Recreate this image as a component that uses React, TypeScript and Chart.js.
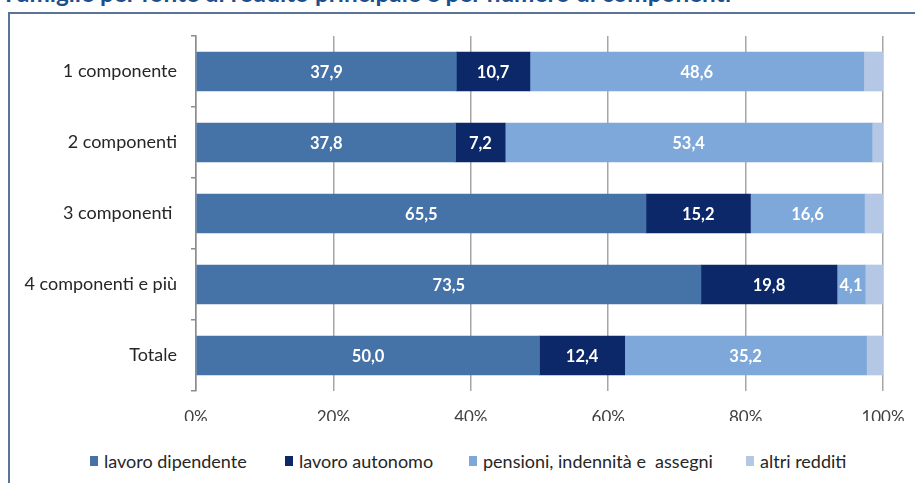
import React, { useEffect, useRef } from "react";
import { Chart, registerables } from "chart.js";

Chart.register(...registerables);

const titleText = "Famiglie per fonte di reddito principale e per numero di componenti";
const categories = ["1 componente", "2 componenti", "3 componenti ", "4 componenti e più", "Totale"];
const lavoroDipendente = [37.9, 37.8, 65.5, 73.5, 50.0];
const lavoroAutonomo = [10.7, 7.2, 15.2, 19.8, 12.4];
const pensioni = [48.6, 53.4, 16.6, 4.1, 35.2];
const altriRedditi = [2.8, 1.6, 2.7, 2.6, 2.4];
const seriesNames = ["lavoro dipendente", "lavoro autonomo", "pensioni, indennità e  assegni", "altri redditi"];
const seriesColors = ["#4573A8", "#0C2868", "#7EA8DA", "#B4C8E6"];
const xTickValues = [0, 20, 40, 60, 80, 100];
const labelledSeries = [0, 1, 2];
const legendLefts = [90, 285, 469, 746];

const FONT = "Lato, 'Open Sans', sans-serif";

const barLabels = {
  id: "barLabels",
  afterDatasetsDraw(chart: any) {
    const ctx = chart.ctx;
    ctx.save();
    ctx.font = `bold 16.5px ${FONT}`;
    ctx.fillStyle = "#ffffff";
    ctx.textAlign = "center";
    ctx.textBaseline = "middle";
    labelledSeries.forEach((di) => {
      const meta = chart.getDatasetMeta(di);
      const ds = chart.data.datasets[di];
      meta.data.forEach((bar: any, i: number) => {
        const v = ds.data[i] as number;
        const cx = (bar.x + bar.base) / 2;
        ctx.fillText(v.toFixed(1).replace(".", ","), cx, bar.y + 1);
      });
    });
    ctx.restore();
  },
};

export default function App() {
  const canvasRef = useRef<HTMLCanvasElement | null>(null);

  useEffect(() => {
    if (!canvasRef.current) return;
    const allSeries = [lavoroDipendente, lavoroAutonomo, pensioni, altriRedditi];
    const chart = new Chart(canvasRef.current, {
      type: "bar",
      data: {
        labels: categories,
        datasets: allSeries.map((d, i) => ({
          label: seriesNames[i],
          data: d,
          backgroundColor: seriesColors[i],
          borderWidth: 0,
          barThickness: 39,
        })),
      },
      options: {
        indexAxis: "y",
        animation: false,
        responsive: false,
        maintainAspectRatio: false,
        layout: { padding: { left: 0, right: 32, top: 36, bottom: 19 } },
        plugins: {
          legend: { display: false },
          tooltip: { enabled: false },
          title: { display: false },
        },
        scales: {
          x: {
            stacked: true,
            min: 0,
            max: 100,
            afterBuildTicks: (scale: any) => {
              scale.ticks = xTickValues.map((v) => ({ value: v }));
            },
            afterFit: (scale: any) => {
              scale.height = 30;
              scale.paddingLeft = 0;
              scale.paddingRight = 0;
            },
            grid: { color: "#A6A6A6", lineWidth: 1.5, drawTicks: false },
            border: { display: false },
            ticks: {
              padding: 16,
              color: "#404040",
              font: { family: FONT, size: 17 },
              callback: (v: any) => `${v}%`,
            },
          },
          y: {
            stacked: true,
            afterFit: (scale: any) => {
              scale.width = 196;
            },
            grid: {
              drawOnChartArea: false,
              offset: true,
              tickLength: 5,
              color: "#8C8C8C",
              lineWidth: 1.5,
            },
            border: { display: true, color: "#8C8C8C", width: 1.5 },
            ticks: {
              padding: 14,
              color: "#262626",
              font: { family: FONT, size: 18 },
            },
          },
        },
      },
      plugins: [barLabels],
    });
    return () => chart.destroy();
  }, []);

  return (
    <div
      style={{
        position: "fixed",
        left: 0,
        top: 0,
        width: 915,
        height: 483,
        overflow: "hidden",
        background: "#ffffff",
        fontFamily: FONT,
      }}
    >
      <div
        style={{
          position: "absolute",
          left: 5,
          top: -19,
          fontSize: 24.3,
          lineHeight: "24.3px",
          fontWeight: 700,
          color: "#1F4E8C",
          whiteSpace: "nowrap",
        }}
      >
        {titleText}
      </div>
      <div
        style={{
          position: "absolute",
          left: 8,
          top: 12,
          width: 1200,
          height: 1000,
          border: "2px solid #5B7398",
          boxSizing: "border-box",
        }}
      />
      <canvas
        ref={canvasRef}
        width={915}
        height={440}
        style={{ position: "absolute", left: 0, top: 0, width: 915, height: 440 }}
      />
      {seriesNames.map((n, i) => (
        <div
          key={n}
          style={{
            position: "absolute",
            left: legendLefts[i],
            top: 450,
            display: "flex",
            alignItems: "center",
            fontSize: 18,
            lineHeight: "22px",
            color: "#262626",
            whiteSpace: "pre",
          }}
        >
          <span
            style={{
              display: "inline-block",
              width: 8,
              height: 10,
              background: seriesColors[i],
              marginRight: 6,
            }}
          />
          <span>{n}</span>
        </div>
      ))}
    </div>
  );
}
